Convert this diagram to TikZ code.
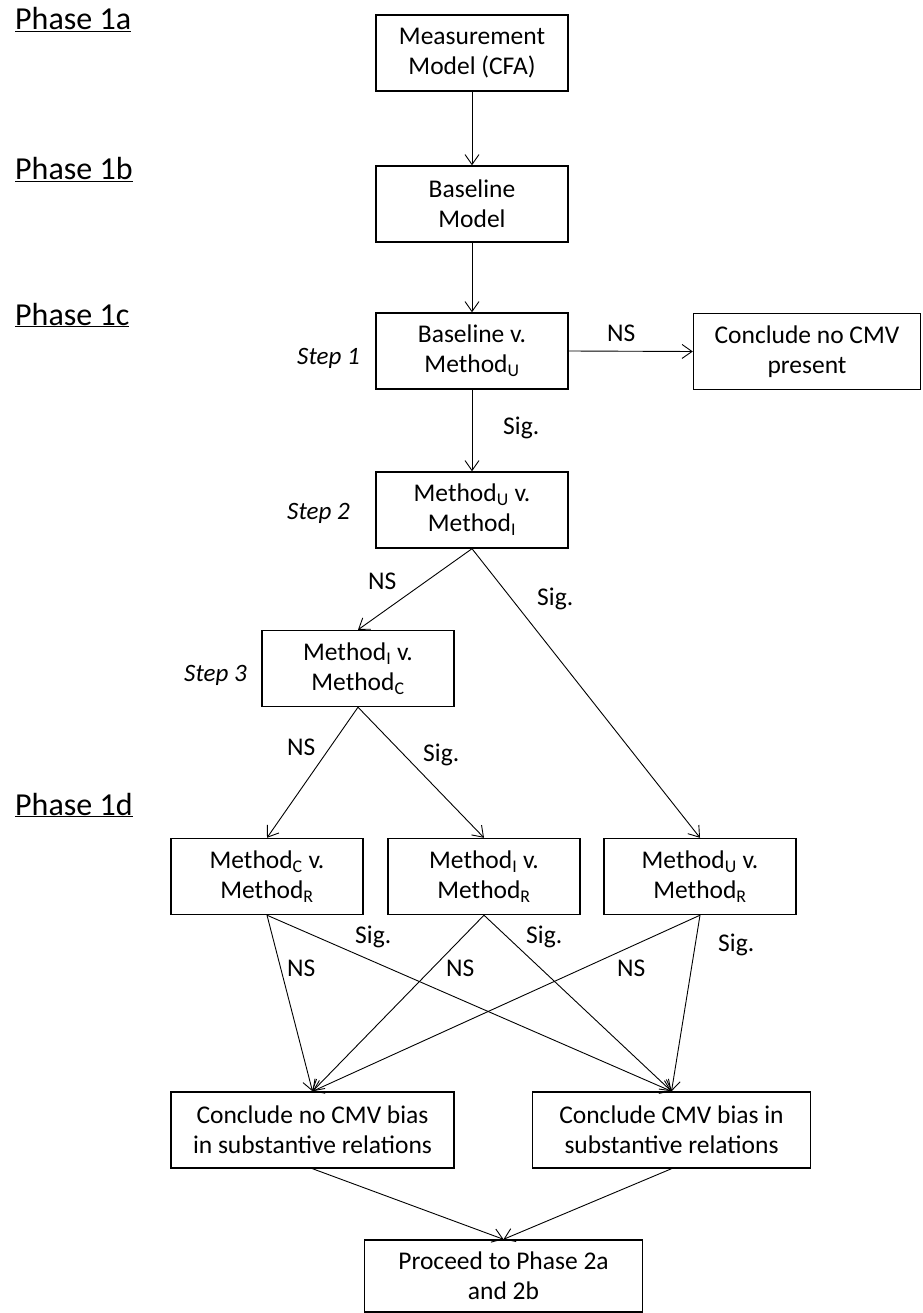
\documentclass[tikz,border=0pt]{standalone}
\usepackage{fontspec}
\setmainfont{Carlito}
\usetikzlibrary{arrows.meta}
\tikzset{
  box/.style={draw, line width=1.4pt, inner sep=0pt, align=center, minimum width=192pt, minimum height=76pt, font=\fontsize{25.5}{30}\selectfont},
  arr/.style={line width=0.9pt, -{Straight Barb[length=10pt,width=14pt,line width=0.9pt]}},
  phase/.style={anchor=base west, inner sep=0pt, font=\fontsize{32}{36}\selectfont},
  steplbl/.style={anchor=base west, inner sep=0pt, font=\fontsize{25}{30}\selectfont\itshape},
  elbl/.style={anchor=base west, inner sep=0pt, font=\fontsize{25.5}{30}\selectfont}
}
\begin{document}
\begin{tikzpicture}[x=1pt,y=-1pt]
\useasboundingbox (0,0) rectangle (922,1313);
% phases
\node[phase] (p1a) at (15,30) {\underline{Phase 1a}};
\node[phase] (p1b) at (15,180) {\underline{Phase 1b}};
\node[phase] (p1c) at (15,325) {\underline{Phase 1c}};
\node[phase] (p1d) at (15,815) {\underline{Phase 1d}};
% steps
\node[steplbl] (st1) at (297,364) {Step 1};
\node[steplbl] (st2) at (287,519) {Step 2};
\node[steplbl] (st3) at (184,681) {Step 3};
% boxes
\node[box] (m) at (472,53) {Measurement\\Model (CFA)};
\node[box] (b) at (472,204) {Baseline\\Model};
\node[box] (s1) at (472,351) {Baseline v.\\Method\textsubscript{U}};
\node[box, minimum width=227pt] (cn) at (807,351.5) {Conclude no CMV\\present};
\node[box] (s2) at (472,510) {Method\textsubscript{U} v.\\Method\textsubscript{I}};
\node[box] (s3) at (358,668.5) {Method\textsubscript{I} v.\\Method\textsubscript{C}};
\node[box] (cr) at (267,876.5) {Method\textsubscript{C} v.\\Method\textsubscript{R}};
\node[box] (ir) at (484,876.5) {Method\textsubscript{I} v.\\Method\textsubscript{R}};
\node[box] (ur) at (700,876.5) {Method\textsubscript{U} v.\\Method\textsubscript{R}};
\node[box, minimum width=283pt] (nb) at (312.5,1130) {Conclude no CMV bias\\in substantive relations};
\node[box, minimum width=278pt] (yb) at (671.5,1130) {Conclude CMV bias in\\substantive relations};
\node[box, minimum width=278pt, minimum height=72pt] (pr) at (503.5,1276) {Proceed to Phase 2a\\and 2b};
% connectors
\draw[arr] (m.south) -- (b.north);
\draw[arr] (b.south) -- (s1.north);
\draw[arr] (s1.east) -- (cn.west);
\draw[arr] (s1.south) -- (s2.north);
\draw[arr] (s2.south) -- (s3.north);
\draw[arr] (s2.south) -- (ur.north);
\draw[arr] (s3.south) -- (cr.north);
\draw[arr] (s3.south) -- (ir.north);
\draw[arr] (cr.south) -- (nb.north);
\draw[arr] (cr.south) -- (yb.north);
\draw[arr] (ir.south) -- (nb.north);
\draw[arr] (ir.south) -- (yb.north);
\draw[arr] (ur.south) -- (nb.north);
\draw[arr] (ur.south) -- (yb.north);
\draw[arr] (nb.south) -- (pr.north);
\draw[arr] (yb.south) -- (pr.north);
% edge labels
\node[elbl] (l1) at (607,341) {NS};
\node[elbl] (l2) at (503,434) {Sig.};
\node[elbl] (l3) at (368,589) {NS};
\node[elbl] (l4) at (537,605) {Sig.};
\node[elbl] (l5) at (287,755) {NS};
\node[elbl] (l6) at (423,761) {Sig.};
\node[elbl] (l7) at (355,943) {Sig.};
\node[elbl] (l8) at (287,976) {NS};
\node[elbl] (l9) at (446,976) {NS};
\node[elbl] (l10) at (526,943) {Sig.};
\node[elbl] (l11) at (617,976) {NS};
\node[elbl] (l12) at (718,951) {Sig.};
\end{tikzpicture}
\end{document}
